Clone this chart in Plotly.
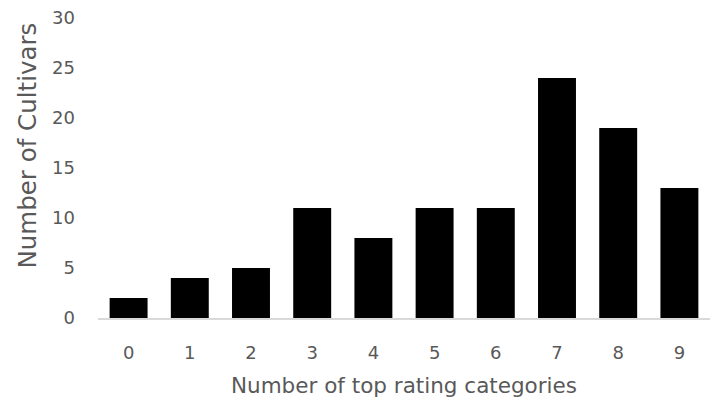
import plotly.graph_objects as go

categories = ["0", "1", "2", "3", "4", "5", "6", "7", "8", "9"]
counts = [2, 4, 5, 11, 8, 11, 11, 24, 19, 13]
y_ticks = [0, 5, 10, 15, 20, 25, 30]

gray = "#595959"
font_family = "DejaVu Sans, sans-serif"

fig = go.Figure(go.Bar(x=categories, y=counts, marker=dict(color="black", line=dict(width=0))))

fig.update_layout(
    width=712, height=411,
    margin=dict(l=90, r=10, t=10, b=101),
    plot_bgcolor="white", paper_bgcolor="white",
    bargap=0.38,
    showlegend=False,
    font=dict(family=font_family, color=gray, size=18),
)
fig.update_xaxes(
    type="category", automargin=False,
    showline=True, linecolor="#d9d9d9", linewidth=1.5,
    showgrid=False, ticks="", ticklabelstandoff=18,
    tickfont=dict(size=18, color=gray),
    title=dict(text="Number of top rating categories", font=dict(size=21.5, color=gray), standoff=16),
)
fig.update_yaxes(
    range=[0, 30], tickvals=y_ticks, automargin=False,
    showgrid=False, zeroline=False, showline=False, ticks="",
    ticklabelstandoff=22, ticklabeloverflow="allow",
    tickfont=dict(size=18, color=gray),
)
fig.add_annotation(
    text="Number of Cultivars", textangle=-90,
    xref="paper", yref="paper", x=0, y=0.575,
    xanchor="center", yanchor="middle", xshift=-71,
    showarrow=False, font=dict(size=24.5, color=gray),
)

fig.write_html("out.html")
